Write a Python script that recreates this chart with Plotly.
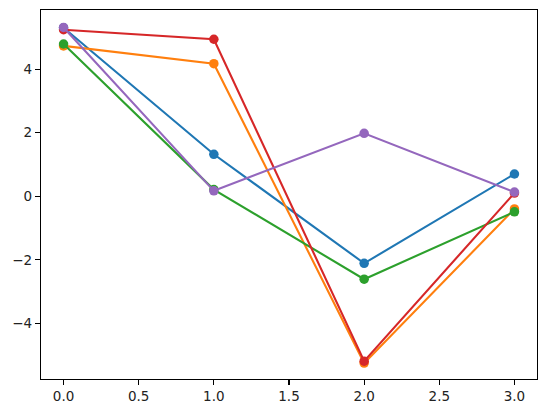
import plotly.graph_objects as go

x_vals = [0, 1, 2, 3]
blue = [5.30, 1.32, -2.11, 0.70]
orange = [4.73, 4.17, -5.25, -0.40]
green = [4.79, 0.21, -2.61, -0.49]
red = [5.24, 4.94, -5.19, 0.10]
purple = [5.31, 0.17, 1.98, 0.13]

series = [blue, orange, green, red, purple]
colors = ["#1f77b4", "#ff7f0e", "#2ca02c", "#d62728", "#9467bd"]

fig = go.Figure()
for ys, c in zip(series, colors):
    fig.add_trace(go.Scatter(
        x=x_vals, y=ys, mode="lines+markers",
        line=dict(color=c, width=2.1),
        marker=dict(color=c, size=9.5, line=dict(width=0)),
        showlegend=False,
    ))

axis_common = dict(
    showline=True, linecolor="black", linewidth=1.1, mirror=True,
    ticks="outside", ticklen=5, tickwidth=1.1, tickcolor="black",
    showgrid=False, zeroline=False, automargin=False,
    tickfont=dict(family="DejaVu Sans", size=13.5, color="#222222"),
)

fig.update_layout(
    width=546, height=413,
    margin=dict(l=41, r=9, t=10, b=34, autoexpand=False),
    plot_bgcolor="white", paper_bgcolor="white",
    xaxis=dict(range=[-0.15, 3.15], dtick=0.5, tick0=0, tickformat=".1f", **axis_common),
    yaxis=dict(range=[-5.75, 5.86], dtick=2, tick0=0, **axis_common),
)

fig.write_html(
    "out.html",
    config={"displayModeBar": False, "staticPlot": True},
    post_script="document.body.style.margin='0';document.body.style.overflow='hidden';",
)
